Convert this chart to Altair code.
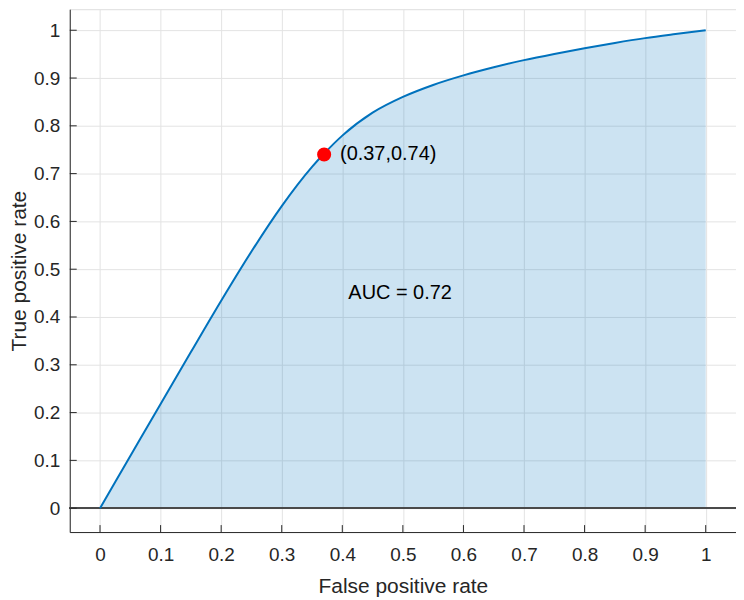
import altair as alt
import pandas as pd

fpr = [0, 0.05, 0.10, 0.15, 0.20, 0.25, 0.30, 0.35, 0.37, 0.40, 0.45, 0.50, 0.55, 0.60,
       0.65, 0.70, 0.75, 0.80, 0.85, 0.90, 0.95, 1.00]
tpr = [0, 0.109, 0.218, 0.3265, 0.434, 0.537, 0.632, 0.714, 0.742, 0.7795, 0.8275, 0.8605,
       0.8855, 0.9055, 0.9225, 0.9375, 0.9505, 0.9625, 0.9735, 0.9835, 0.992, 1.000]
opt_x = [0.37]
opt_y = [0.74]
opt_label = ["(0.37,0.74)"]
auc_text = ["AUC = 0.72"]
auc_pos_x = [0.41]
auc_pos_y = [0.45]
tick_values = [0, 0.1, 0.2, 0.3, 0.4, 0.5, 0.6, 0.7, 0.8, 0.9, 1]

W, H = 669, 525
FONT = "Liberation Sans"
AXC = "#262626"

curve = pd.DataFrame({"fpr": fpr, "tpr": tpr})
opt = pd.DataFrame({"x": opt_x, "y": opt_y, "t": opt_label})
auc = pd.DataFrame({"x": auc_pos_x, "y": auc_pos_y, "t": auc_text})
ticks = pd.DataFrame({"v": tick_values})

xs = alt.Scale(domain=[-0.05, 1.05], nice=False, zero=False)
ys = alt.Scale(domain=[-0.05, 1.044], nice=False, zero=False)

xaxis = alt.Axis(values=tick_values, format="~g", ticks=False, grid=True,
                 gridColor="#e3e3e3", domainColor=AXC, labelColor=AXC,
                 labelFontSize=19, labelFont=FONT, labelPadding=14,
                 title="False positive rate", titleFont=FONT, titleFontSize=21,
                 titleFontWeight="normal", titleColor=AXC, titlePadding=11,
                 labelFlush=False)
yaxis = alt.Axis(values=tick_values, format="~g", ticks=False, grid=True,
                 gridColor="#e3e3e3", domainColor=AXC, labelColor=AXC,
                 labelFontSize=19, labelFont=FONT, labelPadding=10,
                 title="True positive rate", titleFont=FONT, titleFontSize=21,
                 titleFontWeight="normal", titleColor=AXC, titlePadding=4,
                 labelFlush=False)

base = alt.Chart(curve)

area = base.mark_area(color="#0072BD", opacity=0.2, interpolate="monotone").encode(
    x=alt.X("fpr:Q", scale=xs, axis=xaxis),
    y=alt.Y("tpr:Q", scale=ys, axis=yaxis),
)

baseline = base.mark_rule(color="#4a4a4a", strokeWidth=1).encode(
    y=alt.datum(0, scale=ys), x=alt.value(0), x2=alt.value(W)
)

line = base.mark_line(color="#0072BD", strokeWidth=2, interpolate="monotone").encode(
    x=alt.X("fpr:Q", scale=xs), y=alt.Y("tpr:Q", scale=ys)
)

xt = alt.Chart(ticks).mark_rule(color=AXC, strokeWidth=1).encode(
    x=alt.X("v:Q", scale=xs), y=alt.value(H), y2=alt.value(H - 7)
)
yt = alt.Chart(ticks).mark_rule(color=AXC, strokeWidth=1).encode(
    y=alt.Y("v:Q", scale=ys), x=alt.value(0), x2=alt.value(7)
)

dot = alt.Chart(opt).mark_point(filled=True, shape="circle", size=200,
                                color="#FF0000", opacity=1).encode(
    x=alt.X("x:Q", scale=xs), y=alt.Y("y:Q", scale=ys)
)
dot_label = alt.Chart(opt).mark_text(align="left", baseline="middle", dx=16,
                                     fontSize=20, font=FONT, color="#000000").encode(
    x=alt.X("x:Q", scale=xs), y=alt.Y("y:Q", scale=ys), text="t:N"
)
auc_label = alt.Chart(auc).mark_text(align="left", baseline="middle",
                                     fontSize=20, font=FONT, color="#000000").encode(
    x=alt.X("x:Q", scale=xs), y=alt.Y("y:Q", scale=ys), text="t:N"
)

chart = alt.layer(area, baseline, line, xt, yt, dot, dot_label, auc_label).properties(
    width=W, height=H,
    autosize=alt.AutoSizeParams(type="none"),
    padding={"left": 62, "top": 0, "right": 0, "bottom": 67},
).configure_view(stroke=None).configure(background="#FFFFFF")

chart.save("out.html", embed_options={"renderer": "svg", "actions": False})
